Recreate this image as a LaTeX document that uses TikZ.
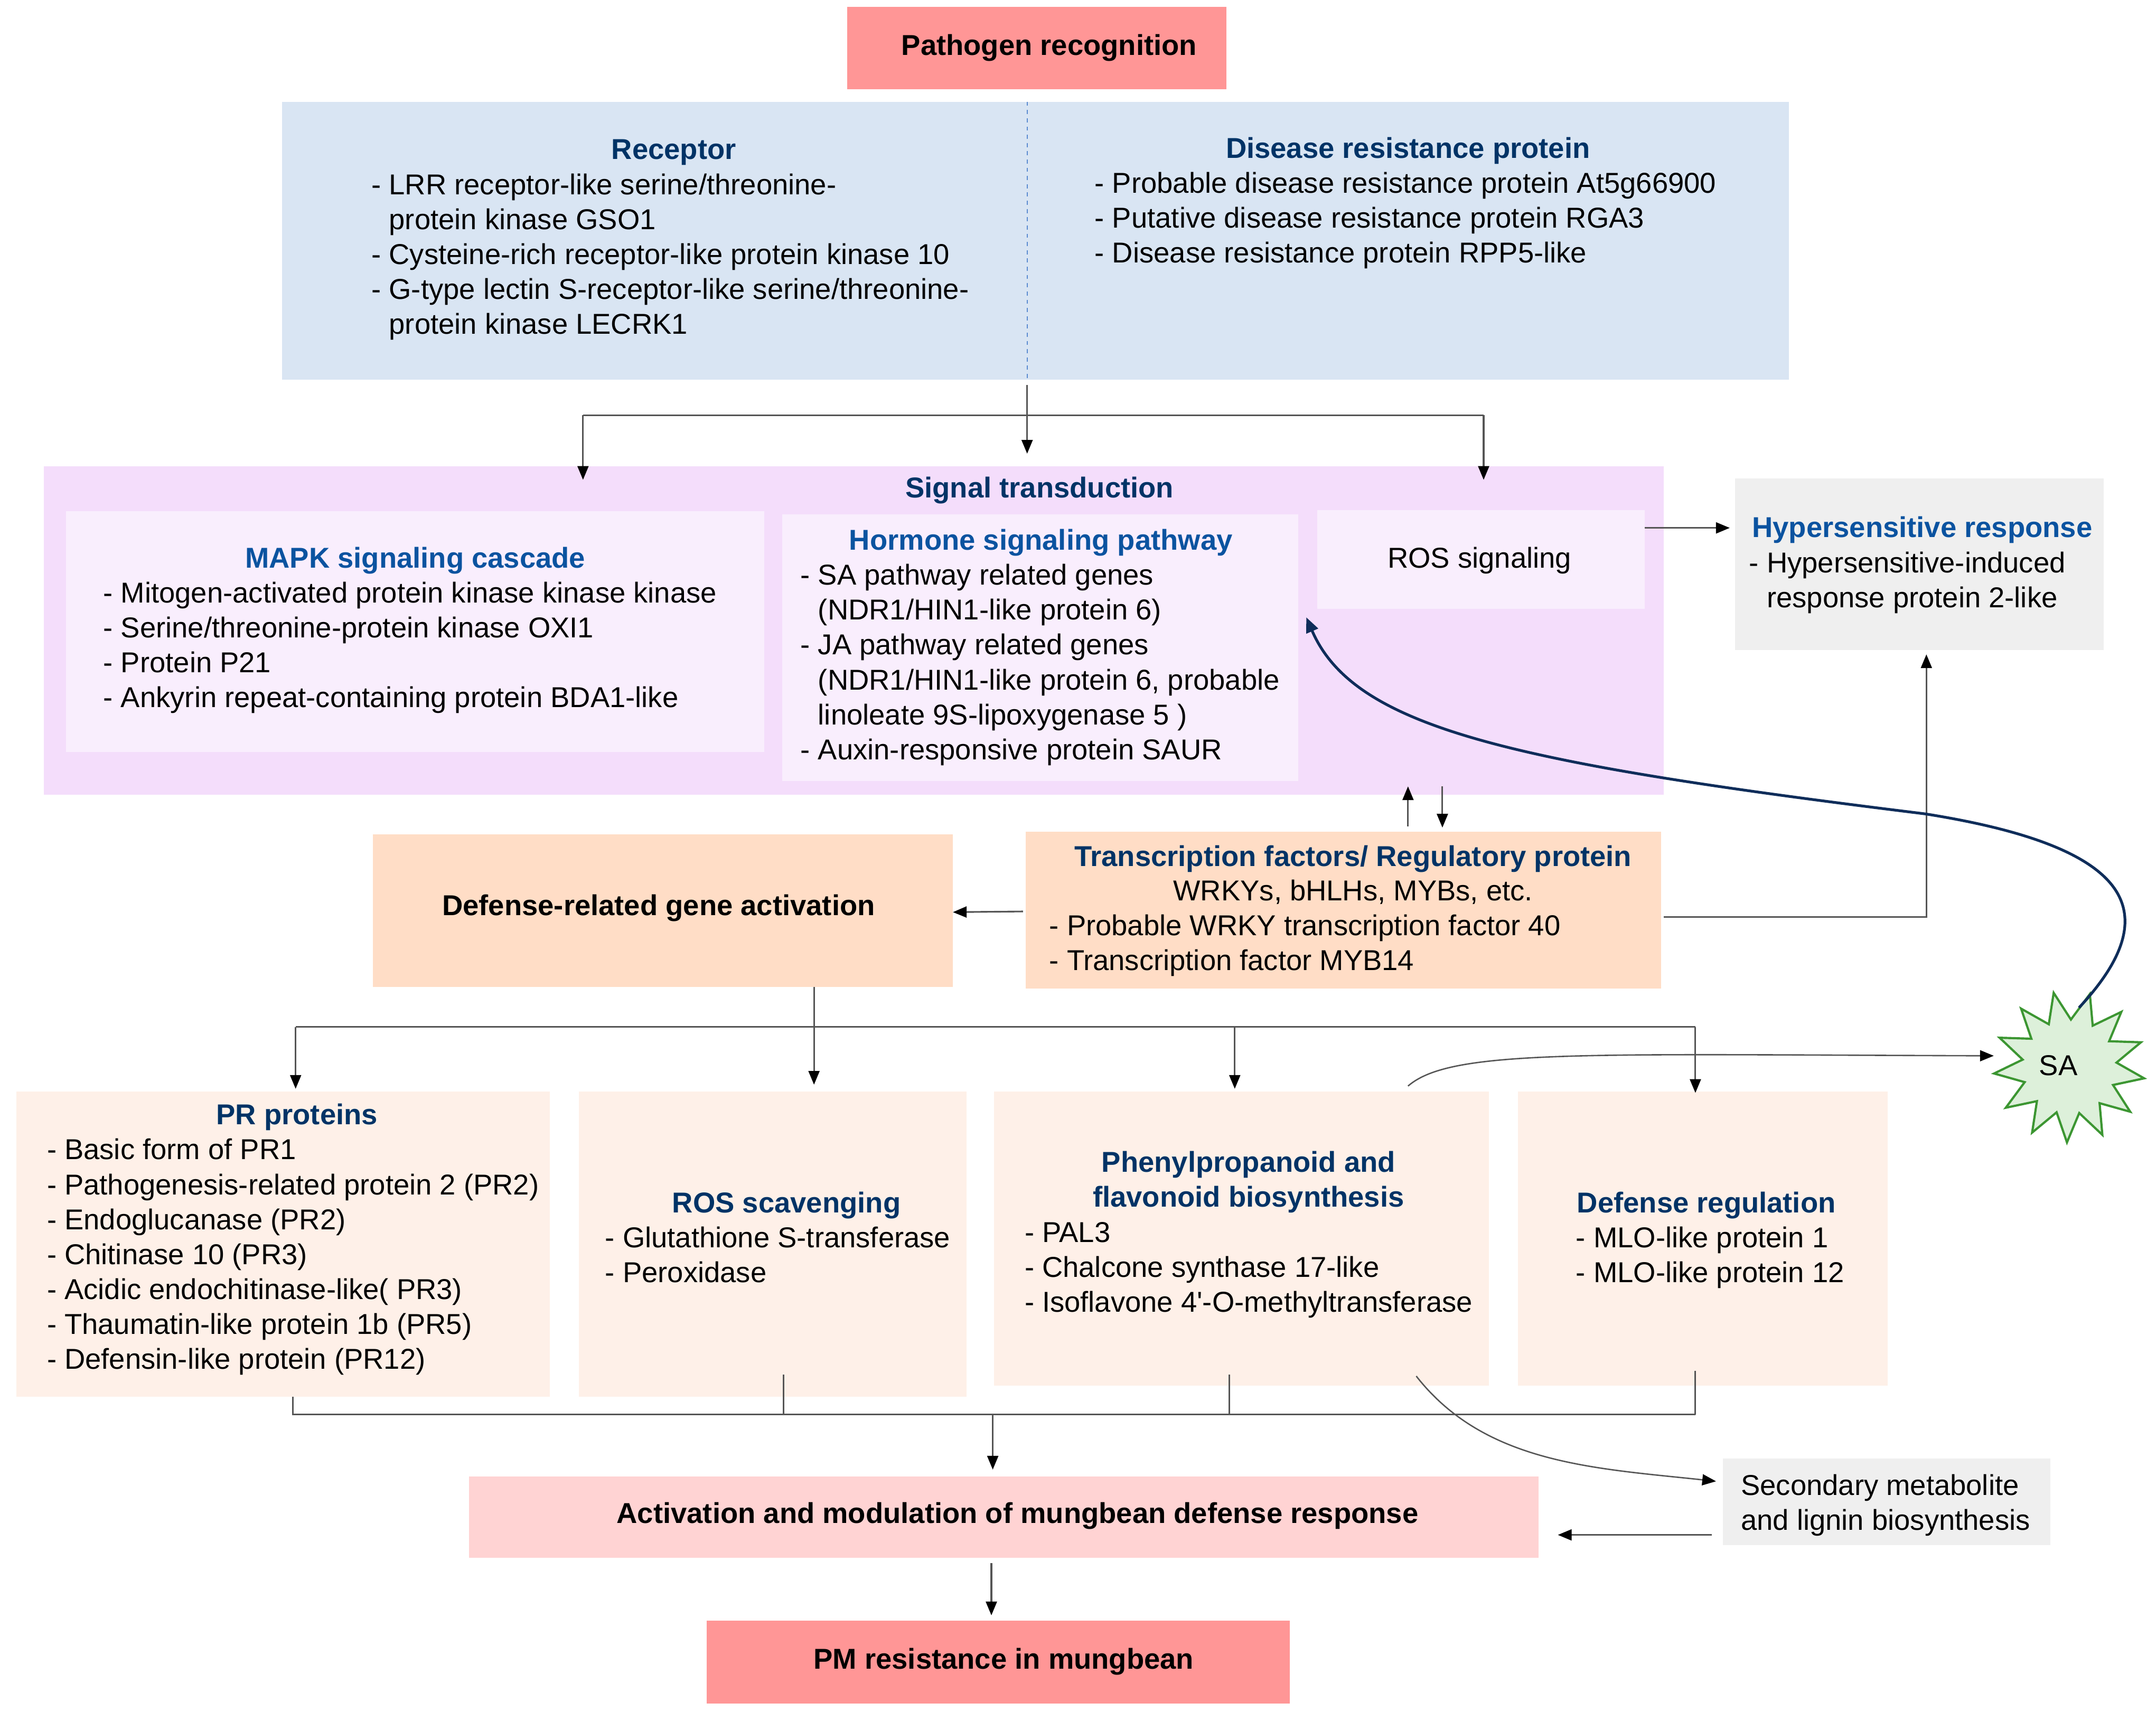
\documentclass[tikz,border=0pt]{standalone}
\usepackage{fontspec}
\setmainfont{Liberation Sans}
\usetikzlibrary{arrows.meta,calc,shapes.geometric}

\definecolor{pathred}{HTML}{FF9696}
\definecolor{recblue}{HTML}{D9E5F3}
\definecolor{siglilac}{HTML}{F4DDFB}
\definecolor{siginner}{HTML}{F9EEFD}
\definecolor{greybox}{HTML}{EFEFEF}
\definecolor{peach}{HTML}{FFDDC6}
\definecolor{peachlt}{HTML}{FEF0E8}
\definecolor{actpink}{HTML}{FFD3D3}
\definecolor{navy}{HTML}{003366}
\definecolor{brightblue}{HTML}{0B53A0}
\definecolor{linegrey}{HTML}{555555}
\definecolor{curvenavy}{HTML}{0F2D5A}
\definecolor{divblue}{HTML}{5B8BD0}
\definecolor{sagreen}{HTML}{3C9632}
\definecolor{safill}{HTML}{DDF0DA}

\newcommand\figfont{\fontsize{20.9}{25.4}\selectfont}
\newcommand\ind{\hphantom{- }}

\tikzset{
  box/.style={inner sep=0pt, outer sep=0pt},
  hd/.style={font=\figfont\bfseries, text=navy, anchor=base, inner sep=0pt},
  hdb/.style={hd, text=brightblue},
  hdk/.style={hd, text=black},
  lst/.style={font=\figfont, align=left, anchor=north west, inner sep=0pt},
  ln/.style={draw=linegrey, line width=1.2pt},
  arr/.style={ln, -{Triangle[width=8pt,length=10pt,color=black]}}
}

\begin{document}
\begin{tikzpicture}[x=1pt,y=-1pt]
\useasboundingbox (0,0) rectangle (1568,1245);

% boxes
\node[box, fill=pathred, minimum width=276, minimum height=60] (path) at (754,35) {};
\node[box, fill=recblue, minimum width=1096, minimum height=202] (recep) at (753,175) {};
\node[box, fill=siglilac, minimum width=1178, minimum height=239] (sig) at (621,458.5) {};
\node[box, fill=siginner, minimum width=508, minimum height=175] (mapk) at (302,459.5) {};
\node[box, fill=siginner, minimum width=375, minimum height=194] (horm) at (756.5,471) {};
\node[box, fill=siginner, minimum width=238, minimum height=72] (rossig) at (1077,407) {};
\node[box, fill=greybox, minimum width=268, minimum height=125] (hyper) at (1396,410.5) {};
\node[box, fill=peach, minimum width=422, minimum height=111] (defact) at (482,662.5) {};
\node[box, fill=peach, minimum width=462, minimum height=114] (tf) at (977,662) {};
\node[box, fill=peachlt, minimum width=388, minimum height=222] (pr) at (206,905) {};
\node[box, fill=peachlt, minimum width=282, minimum height=222] (rossc) at (562,905) {};
\node[box, fill=peachlt, minimum width=360, minimum height=214] (phen) at (903,901) {};
\node[box, fill=peachlt, minimum width=269, minimum height=214] (defreg) at (1238.5,901) {};
\node[box, fill=actpink, minimum width=778, minimum height=59] (act) at (730,1103.5) {};
\node[box, fill=greybox, minimum width=238, minimum height=63] (secm) at (1372,1092.5) {};
\node[box, fill=pathred, minimum width=424, minimum height=60] (pm) at (726,1209) {};
\node[star, star points=13, star point ratio=1.6, minimum size=110, inner sep=0pt,
  draw=sagreen, fill=safill, line width=1.6pt, rotate=12, font=\figfont] (sa) at (1505,776) {};
\node[font=\figfont, inner sep=0pt] (satext) at (1497,775) {SA};

% divider in receptor box
\coordinate (div) at (747,276);
\draw[divblue, dashed, line width=0.8pt] (div |- recep.north) -- (div);

% texts
\node[hdk] (pathtext) at (763,40.3) {Pathogen recognition};
\node[hd] (rechd) at (490,116) {Receptor};
\node[lst] (reclst) at (270,123.5) {\strut- LRR receptor-like serine/threonine-\\
  \ind protein kinase GSO1\\
  - Cysteine-rich receptor-like protein kinase 10\\
  - G-type lectin S-receptor-like serine/threonine-\\
  \ind protein kinase LECRK1};
\node[hd] (drphd) at (1024,115) {Disease resistance protein};
\node[lst] (drplst) at (796,122.5) {\strut- Probable disease resistance protein At5g66900\\
  - Putative disease resistance protein RGA3\\
  - Disease resistance protein RPP5-like};
\node[hd] (sighd) at (756,362) {Signal transduction};
\node[hdb] (mapkhd) at (302,413) {MAPK signaling cascade};
\node[lst] (mapklst) at (75,420.5) {\strut- Mitogen-activated protein kinase kinase kinase\\
  - Serine/threonine-protein kinase OXI1\\
  - Protein P21\\
  - Ankyrin repeat-containing protein BDA1-like};
\node[hdb] (hormhd) at (757,400) {Hormone signaling pathway};
\node[lst] (hormlst) at (582,407.5) {\strut- SA pathway related genes\\
  \ind(NDR1/HIN1-like protein 6)\\
  - JA pathway related genes\\
  \ind(NDR1/HIN1-like protein 6, probable\\
  \ind linoleate 9S-lipoxygenase 5 )\\
  - Auxin-responsive protein SAUR};
\node[font=\figfont, anchor=base, inner sep=0pt] (rossigtext) at (1076,413) {ROS signaling};
\node[hdb] (hyperhd) at (1398,391) {Hypersensitive response};
\node[lst] (hyperlst) at (1272,398.5) {\strut- Hypersensitive-induced\\
  \ind response protein 2-like};
\node[hdk] (defacttext) at (479,666) {Defense-related gene activation};
\node[hd] (tfhd) at (984,630) {Transcription factors/ Regulatory protein};
\node[font=\figfont, anchor=base, inner sep=0pt] (tfsub) at (984,655) {WRKYs, bHLHs, MYBs, etc.};
\node[lst] (tflst) at (763,662.5) {\strut- Probable WRKY transcription factor 40\\
  - Transcription factor MYB14};
\node[hd] (prhd) at (216,818) {PR proteins};
\node[lst] (prlst) at (34,825.5) {\strut- Basic form of PR1\\
  - Pathogenesis-related protein 2 (PR2)\\
  - Endoglucanase (PR2)\\
  - Chitinase 10 (PR3)\\
  - Acidic endochitinase-like( PR3)\\
  - Thaumatin-like protein 1b (PR5)\\
  - Defensin-like protein (PR12)};
\node[hd] (rosschd) at (572,882) {ROS scavenging};
\node[lst] (rossclst) at (440,889.5) {\strut- Glutathione S-transferase\\
  - Peroxidase};
\node[hd, align=center, anchor=north] (phenhd) at (908,834.5) {\strut Phenylpropanoid and\\flavonoid biosynthesis};
\node[lst] (phenlst) at (745,885.5) {\strut- PAL3\\
  - Chalcone synthase 17-like\\
  - Isoflavone 4\textquotesingle-O-methyltransferase};
\node[hd] (defreghd) at (1241,882) {Defense regulation};
\node[lst] (defreglst) at (1146,889.5) {\strut- MLO-like protein 1\\
  - MLO-like protein 12};
\node[hdk] (acttext) at (740,1108) {Activation and modulation of mungbean defense response};
\node[lst] (secmtext) at (1266,1069.5) {\strut Secondary metabolite\\and lignin biosynthesis};
\node[hdk] (pmtext) at (730,1214) {PM resistance in mungbean};

% connectors: receptor to signal transduction
\coordinate (tbL) at (424,302);
\coordinate (tbR) at (1079,302);
\draw[ln] (tbL) -- (tbR);
\draw[arr] ($(div)+(0,4)$) -- ($(div)+(0,54)$);
\draw[arr] (tbL) -- ($(tbL |- sig.north)+(0,10)$);
\draw[arr] (tbR) -- ($(tbR |- sig.north)+(0,10)$);
\draw[arr] ($(rossig.east)+(0,-23)$) -- ($(hyper.west |- rossig.east)+(-4,-23)$);

% signal transduction <-> transcription factors
\coordinate (ud1) at (1024,600);
\coordinate (ud2) at (1049,600);
\draw[arr] ($(tf.north -| ud1)+(0,-4)$) -- ($(sig.south -| ud1)+(0,-6)$);
\draw[arr] ($(sig.south -| ud2)+(0,-6)$) -- ($(tf.north -| ud2)+(0,-3)$);
\draw[arr] ($(tf.west)+(-2,1)$) -- ($(defact.east)+(0,1)$);
\coordinate (tfh) at (1401,667);
\draw[arr] ($(tf.east |- tfh)+(2,0)$) -- (tfh) -- ($(tfh |- hyper.south)+(0,3)$);

% SA feedback to hormone signaling
\draw[curvenavy, line width=2pt, -{Triangle[width=9pt,length=11pt]}]
  (1512,733) .. controls (1580,660) and (1545,615) .. (1400,592)
  .. controls (1100,555) and (985,530) .. ($(horm.east)+(6,-22)$);

% defense-related gene activation to downstream boxes
\coordinate (dbL) at (215,747);
\coordinate (dbR) at (1233,747);
\coordinate (dbP) at (898,747);
\draw[ln] (dbL) -- (dbR);
\draw[arr] (defact.south -| 592,0) -- ($(rossc.north -| 592,0)+(0,-5)$);
\draw[arr] (dbL) -- ($(dbL |- pr.north)+(0,-2)$);
\draw[arr] (dbP) -- ($(dbP |- phen.north)+(0,-2)$);
\draw[arr] (dbR) -- ($(dbR |- defreg.north)+(0,1)$);
\draw[ln, line width=1pt, -{Triangle[width=8pt,length=10pt,color=black]}]
  (1024,790) .. controls (1055,763) and (1150,767) .. (1450,768);

% downstream boxes to activation
\draw[ln] (pr.south -| 213,0) -- (213,1029) -- (1233,1029);
\draw[ln] (570,1000) -- (570 ,1029);
\draw[ln] (894,1000) -- (894,1029);
\draw[ln] (1233,997) -- (1233,1029);
\draw[arr] (722,1029) -- ($(act.north -| 722,0)+(0,-5)$);
\draw[ln, line width=1pt, -{Triangle[width=8pt,length=10pt,color=black]}]
  (1030,1001) .. controls (1080,1065) and (1160,1068) .. ($(secm.west)+(-5,-15)$);
\draw[arr] ($(secm.west)+(-8,24)$) -- ($(act.east |- secm.west)+(14,24)$);
\draw[arr] ($(act.south -| 721,0)+(0,4)$) -- ($(pm.north -| 721,0)+(0,-4)$);
\end{tikzpicture}
\end{document}
